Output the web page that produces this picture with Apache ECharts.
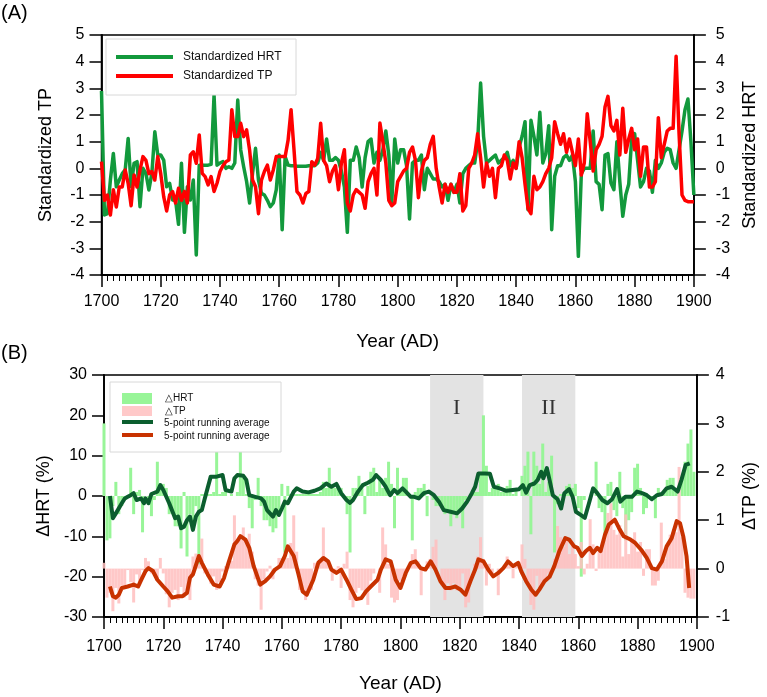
<!DOCTYPE html>
<html><head><meta charset="utf-8">
<script src="https://cdn.jsdelivr.net/npm/echarts@6/dist/echarts.min.js"></script>
<style>html,body{margin:0;padding:0;background:#fff}#c{width:767px;height:697px}</style>
</head><body><div id="c"></div><script>
const startYear = 1700;
const xTicks = [1700, 1720, 1740, 1760, 1780, 1800, 1820, 1840, 1860, 1880, 1900];

// Panel A: standardized series, one value per year 1700-1900
const stdHRT = [
2.9,-1.75,-1.7,-0.44,0.56,-0.69,-0.44,-0.2,-0.06,1.12,
-0.69,0.19,0.25,-1.44,0.0,-0.19,-0.81,-0.19,1.37,0.5,
0.5,0.31,-0.69,-0.56,-1.19,-1.2,-2.1,0.19,-2.4,-0.69,
-1.19,-0.44,-3.25,0.12,0.12,0.12,0.12,0.15,2.75,0.12,
0.2,0.25,0.0,0.06,0.0,0.2,2.56,0.69,0.06,-0.5,
-1.3,-0.19,0.75,-0.44,-0.94,-1.0,-1.2,-1.44,-1.3,-0.81,
0.5,-2.3,0.44,0.12,0.1,0.1,0.08,0.08,0.08,0.08,
0.1,0.1,0.1,0.2,0.6,0.3,1.1,0.3,0.3,0.4,
0.3,-0.1,-0.7,-2.4,0.3,0.3,0.8,0.4,-0.7,0.4,
1.0,1.1,0.2,0.6,0.3,0.7,1.4,0.5,-1.3,1.1,
0.2,0.7,0.7,0.1,-1.9,0.2,0.3,0.3,0.5,-0.8,
0.0,-0.2,-0.4,-0.4,-0.5,-0.7,-0.6,-1.2,-0.6,-0.9,
-0.6,-1.3,-0.2,0.0,0.1,0.2,0.2,1.0,3.2,1.2,
0.2,0.3,0.4,0.5,0.2,0.3,0.4,0.6,0.1,0.3,
0.0,0.8,1.2,1.75,-1.55,1.8,1.2,0.5,2.1,0.2,
0.55,1.6,-2.3,-0.3,0.1,0.1,0.4,0.5,0.3,0.5,
-0.5,-3.3,-0.2,0.0,0.0,0.0,1.4,-0.5,-0.6,-1.55,
0.5,0.55,-0.55,-0.8,1.0,-0.5,-1.8,-1.0,-0.6,1.1,
1.3,0.3,-0.7,-0.5,0.0,-0.1,-0.9,0.3,0.0,0.2,
0.6,0.75,0.7,0.2,0.0,0.7,1.4,2.2,2.6,1.0,
-1.0
];
const stdTP = [
0.25,-1.2,-1.0,-1.75,-0.8,-1.45,-0.7,-0.7,-0.06,-0.56,
-1.4,-0.25,-0.7,-0.06,0.44,0.3,-0.2,-0.12,-0.44,0.44,
-0.2,-1.06,-1.6,-1.0,-0.87,-1.3,-0.75,-1.2,-0.87,-1.3,
0.5,0.62,0.19,1.25,-0.19,-0.31,-0.62,-0.31,-0.87,-0.56,
-0.12,0.1,0.25,0.31,2.2,1.19,1.19,1.69,1.19,1.44,
0.69,-0.44,-0.69,-1.7,-0.44,-0.12,0.12,-0.44,-0.06,0.44,
0.44,0.44,0.44,1.06,2.2,0.69,-0.87,-1.0,-1.3,-0.94,
-0.87,0.25,0.12,0.37,1.69,0.3,0.1,-0.5,-0.1,0.1,
-0.8,0.2,0.7,-1.3,-1.6,-1.0,-0.8,-0.9,-1.0,-1.5,
-0.5,-0.2,0.0,-1.0,1.7,1.0,0.2,-1.2,-1.4,-1.3,
-0.5,-0.3,-0.1,0.0,0.6,0.8,0.3,-1.1,-0.1,0.3,
0.4,0.9,1.2,0.0,-0.7,-1.3,-0.6,-0.9,-0.6,-0.9,
-0.9,-0.2,-1.6,-1.4,0.0,0.2,0.5,1.3,0.4,-0.7,
0.2,-0.3,0.0,-1.1,0.0,0.1,0.5,0.3,-0.4,0.2,
0.0,1.0,0.4,-0.6,-1.5,-1.7,-0.3,-0.8,-0.7,-0.5,
-0.2,0.0,0.4,1.75,1.3,0.9,1.3,0.6,1.1,0.6,
0.1,1.1,-0.25,0.2,2.05,1.0,-0.1,0.7,0.9,1.2,
2.3,2.7,1.6,1.4,1.8,0.5,2.25,0.6,1.1,1.5,
0.7,1.1,-0.3,0.8,0.8,-0.7,-0.7,-0.5,1.9,0.4,
0.9,1.4,1.5,1.5,4.2,1.3,-1.0,-1.2,-1.25,-1.25,
-1.25
];

// Panel B: annual changes (bars), one value per year 1700-1899
const dHRT = [
18,-11,-10.5,-2.5,3.5,-4.5,-2.5,-1,-0.5,7,
-4.5,1,1.5,-9,0,-1,-5,-1,8.5,3,
3,2,-4.5,-3.5,-7.5,-7.5,-13,1,-15,-4.5,
-7.5,-2.5,-17,0.5,0.5,0.5,0.5,1,17.5,0.5,
1,1.5,0,0.5,0,1,16,4.5,0.5,-3,
-8,-1,4.5,-2.5,-6,-6,-7.5,-9,-8,-5,
3,-14,2.5,0.5,0.5,0.5,0.5,0.5,0.5,0.5,
0.5,0.5,0.5,1,3.5,2,7,2,2,2.5,
2,-0.5,-4.5,-14,2,2,5,2.5,-4.5,2.5,
6,7,1,4,2,4.5,8.5,3,-8,7,
1,4.5,4.5,0.5,-11,1,2,2,3,-5,
0,-1,-2.5,-2.5,-3,-4.5,-4,-7.5,-4,-5.5,
-4,-8,-1,0,0.5,1,1,6,20,7.5,
1,2,2.5,3,1,2,2.5,4,0.5,2,
0,5,7.5,11,-9.5,11,7.5,3,13,1,
3.5,10,-14,-2,0.5,0.5,2.5,3,2,3,
-3,-20,-1,0,0,0,8.5,-3,-4,-9.5,
3,3.5,-3.5,-5,6,-3,-11,-6,-4,7,
8,2,-4.5,-3,0,-0.5,-5.5,2,0,1,
4,4.5,4.5,1,0,4.5,8.5,13,16.5,6
];
const dTP = [
0.12,-0.6,-0.5,-0.88,-0.4,-0.72,-0.35,-0.35,-0.03,-0.28,
-0.7,-0.12,-0.35,-0.03,0.22,0.15,-0.1,-0.06,-0.22,0.22,
-0.1,-0.53,-0.8,-0.5,-0.44,-0.65,-0.38,-0.6,-0.44,-0.65,
0.25,0.31,0.1,0.62,-0.1,-0.16,-0.31,-0.16,-0.44,-0.28,
-0.06,0.05,0.12,0.16,1.1,0.6,0.6,0.85,0.6,0.72,
0.35,-0.22,-0.35,-0.85,-0.22,-0.06,0.06,-0.22,-0.03,0.22,
0.22,0.22,0.22,0.53,1.1,0.35,-0.44,-0.5,-0.65,-0.47,
-0.44,0.12,0.06,0.18,0.85,0.15,0.05,-0.25,-0.05,0.05,
-0.4,0.1,0.35,-0.65,-0.8,-0.5,-0.4,-0.45,-0.5,-0.75,
-0.25,-0.1,0,-0.5,0.85,0.5,0.1,-0.6,-0.7,-0.65,
-0.25,-0.15,-0.05,0,0.3,0.4,0.15,-0.55,-0.05,0.15,
0.2,0.45,0.6,0,-0.35,-0.65,-0.3,-0.45,-0.3,-0.45,
-0.45,-0.1,-0.8,-0.7,0,0.1,0.25,0.65,0.2,-0.35,
0.1,-0.15,0,-0.55,0,0.05,0.25,0.15,-0.2,0.1,
0,0.5,0.2,-0.3,-0.75,-0.85,-0.15,-0.4,-0.35,-0.25,
-0.1,0,0.2,0.88,0.65,0.45,0.65,0.3,0.55,0.3,
0.05,0.55,-0.12,0.1,1.02,0.5,-0.05,0.35,0.45,0.6,
1.15,1.35,0.8,0.7,0.9,0.25,1.12,0.3,0.55,0.75,
0.35,0.55,-0.15,0.4,0.4,-0.35,-0.35,-0.25,0.95,0.2,
0.45,0.7,0.75,0.75,2.1,0.65,-0.5,-0.6,-0.62,-0.62
];

// 5-point running averages: [year, value]
const avgHRT = [[1702,0],[1703,-5.5],[1704,-4.3],[1706,-1.8],[1707,-0.6],[1708,-0.2],[1709,0.2],[1710,0.7],[1711,-1],[1712.5,-0.6],[1713.5,-1.8],[1714,-0.6],[1715,-1.8],[1716,0.5],[1718,1.1],[1719,2.7],[1720,1.5],[1722,-1.8],[1724,-5.5],[1725,-5.1],[1726,-8],[1727,-7.6],[1728,-6],[1729,-5.1],[1730,-8.4],[1731,-5.1],[1732,-3.9],[1733,-3.5],[1734,-0.6],[1736,4.8],[1738,4.8],[1740,5.2],[1741,1.5],[1743,1.1],[1744,4.4],[1745,5.2],[1747,5],[1748,4],[1749,0.2],[1751,-0.2],[1753,-0.6],[1754,-1.4],[1755,-3.5],[1757,-5.1],[1758,-3.5],[1759,-4.7],[1760,-3.1],[1761,-1.4],[1762,-1.8],[1764,1.1],[1765,1.9],[1767,1.1],[1769,0.9],[1771,1.3],[1773,1.9],[1775,3.1],[1776.7,2.3],[1778.4,3],[1780,0.7],[1781.8,-1],[1783,-1.7],[1784,-1],[1785.7,1.1],[1787.3,2.7],[1789,3.3],[1790.7,4],[1791.8,5.2],[1793.4,4],[1795,2.3],[1796.5,0.2],[1797.9,1.5],[1799,0.7],[1800.7,1.9],[1801.8,1.1],[1803.5,-0.2],[1804.6,-0.2],[1806.2,-0.6],[1807.9,0.7],[1809.6,1.1],[1811.3,0.2],[1813,-1.4],[1814.6,-3.5],[1816.9,-3.9],[1819.1,-4.3],[1820.8,-3.1],[1822.5,-1.4],[1824.1,0.7],[1825.2,2.3],[1826.3,5.6],[1828.5,5.6],[1830.2,5.5],[1831.5,2.3],[1833.5,1.9],[1835.7,1.3],[1837.9,1.5],[1840,1.7],[1841.3,2.7],[1842.4,0.8],[1843.6,2.7],[1845.2,3.1],[1846.3,4],[1847.5,6],[1848.2,4.4],[1849.4,6.9],[1850.3,4],[1851.4,0.2],[1853,-0.8],[1854.2,-3.1],[1855.3,0.7],[1856.9,1.7],[1858.1,-0.2],[1859.2,-3.9],[1860.8,-4.7],[1862.2,-5.4],[1863.6,-1.8],[1865,1.9],[1866.4,0.7],[1868.1,-1],[1869.8,-1.8],[1871.4,-0.8],[1873.1,1.7],[1874.2,-1.4],[1875.9,-0.2],[1878.1,-0.2],[1879.8,1.1],[1881.5,0.7],[1883.1,0.2],[1884.8,-0.8],[1886.5,0.2],[1888.2,0.5],[1889.8,1.9],[1891.5,2.3],[1893.5,1.1],[1894.8,4],[1896.2,7.7],[1897.6,8.1]];
const avgTP = [[1702,-0.37],[1703,-0.57],[1704,-0.6],[1705,-0.54],[1706,-0.4],[1708,-0.37],[1710,-0.33],[1711.5,-0.37],[1712.6,-0.23],[1714,-0.05],[1715,0.01],[1716.5,-0.05],[1718,-0.23],[1720,-0.37],[1721.5,-0.47],[1723,-0.6],[1725,-0.57],[1726.5,-0.57],[1728,-0.5],[1729,-0.19],[1730,-0.12],[1732,0.26],[1733,0.12],[1735,-0.12],[1737,-0.33],[1739,-0.37],[1740.5,-0.19],[1742,0.12],[1744,0.5],[1745,0.57],[1746,0.67],[1747.7,0.6],[1749,0.43],[1750.5,0.05],[1752.7,-0.33],[1754.4,-0.26],[1756,-0.16],[1757.7,-0.02],[1759.4,0.05],[1761,0.26],[1762,0.46],[1764,0.26],[1765.5,-0.09],[1767,-0.47],[1768.4,-0.54],[1770.6,-0.23],[1772.3,0.12],[1774,0.22],[1775.6,0.15],[1776.7,-0.02],[1778.4,-0.09],[1780,-0.02],[1781.8,-0.23],[1783.4,-0.43],[1785.1,-0.63],[1786.8,-0.61],[1788.4,-0.47],[1790,-0.37],[1792.3,-0.23],[1793.4,-0.02],[1795,0.19],[1796.7,0.15],[1798.4,-0.23],[1800,-0.4],[1801.8,-0.09],[1803.5,0.12],[1805.1,0.15],[1806.8,0.01],[1808.4,-0.02],[1810.2,0.15],[1811.8,-0.02],[1813.5,-0.26],[1815.2,-0.4],[1816.9,-0.4],[1818.5,-0.37],[1820.2,-0.43],[1821.9,-0.54],[1823.6,-0.26],[1825.2,-0.02],[1826.3,0.19],[1828,0.15],[1829.6,-0.02],[1831.3,-0.16],[1833,-0.09],[1834.7,0.01],[1836.3,0.15],[1838,0.05],[1839.7,0.12],[1840.8,-0.06],[1842.4,-0.26],[1844.1,-0.43],[1845.6,-0.54],[1846.9,-0.43],[1848.6,-0.26],[1850.3,-0.17],[1851.9,0.05],[1853.6,0.36],[1855.6,0.63],[1856.9,0.6],[1858.6,0.46],[1859.7,0.43],[1861.2,0.26],[1862.5,0.36],[1863.9,0.43],[1865,0.32],[1866.4,0.43],[1867.5,0.36],[1869,0.7],[1870.3,0.91],[1872.3,1.01],[1873.7,0.84],[1875.3,0.67],[1877.6,0.6],[1879.2,0.53],[1881.2,0.39],[1883.1,0.22],[1884.8,0.01],[1886.5,-0.02],[1888.2,0.15],[1889.8,0.46],[1891.5,0.63],[1893.2,0.98],[1894.3,0.94],[1895.4,0.67],[1896.5,0.26],[1897.4,-0.4]];

// Shaded periods
const periods = [{name: 'I', from: 1810, to: 1828}, {name: 'II', from: 1841, to: 1859}];

const withYears = arr => arr.map((v, i) => [startYear + i, v]);
const FONT = "'Liberation Sans', Arial, sans-serif";

const chart = echarts.init(document.getElementById('c'), null, {renderer: 'canvas'});

function xAxisFor(gridIndex, labelMargin) {
  return {
    type: 'value', gridIndex: gridIndex,
    min: xTicks[0], max: xTicks[xTicks.length - 1], interval: xTicks[1] - xTicks[0],
    name: 'Year (AD)', nameLocation: 'middle', nameGap: 57,
    nameTextStyle: {color: '#000', fontSize: 19, fontFamily: FONT},
    axisLine: {show: true, onZero: false, lineStyle: {color: '#000', width: 1.8}},
    axisTick: {show: true, inside: false, length: 12, lineStyle: {color: '#000', width: 1.5}},
    minorTick: {show: true, splitNumber: 10, length: 6, lineStyle: {color: '#000', width: 1}},
    splitLine: {show: false}, minorSplitLine: {show: false},
    axisLabel: {color: '#000', fontSize: 16, fontFamily: FONT, margin: labelMargin, formatter: v => String(v)}
  };
}
function yAxisFor(gridIndex, pos, min, max, interval, name, nameGap, labelMargin) {
  return {
    type: 'value', gridIndex: gridIndex, position: pos,
    min: min, max: max, interval: interval,
    name: name, nameLocation: 'middle', nameGap: nameGap,
    nameTextStyle: {color: '#000', fontSize: 18, fontFamily: FONT},
    axisLine: {show: true, onZero: false, lineStyle: {color: '#000', width: 1.8}},
    axisTick: {show: true, inside: false, length: 12, lineStyle: {color: '#000', width: 1.5}},
    splitLine: {show: false},
    axisLabel: {color: '#000', fontSize: 16, fontFamily: FONT, margin: labelMargin, formatter: v => String(v)}
  };
}

const legendA = [
  {type: 'rect', shape: {x: 106, y: 39, width: 190, height: 56}, style: {fill: '#fff', stroke: '#d8d8d8', lineWidth: 1}, z: 100},
  {type: 'line', shape: {x1: 116, y1: 57, x2: 173, y2: 57}, style: {stroke: '#12993c', lineWidth: 4}, z: 101},
  {type: 'line', shape: {x1: 116, y1: 76, x2: 173, y2: 76}, style: {stroke: '#ff0000', lineWidth: 4}, z: 101},
  {type: 'text', x: 183, y: 57, style: {text: 'Standardized HRT', fill: '#111', font: '12px ' + FONT, textVerticalAlign: 'middle'}, z: 101},
  {type: 'text', x: 183, y: 76, style: {text: 'Standardized TP', fill: '#111', font: '12px ' + FONT, textVerticalAlign: 'middle'}, z: 101}
];
const legendB = [
  {type: 'rect', shape: {x: 110, y: 382, width: 171, height: 70}, style: {fill: '#fff', stroke: '#d8d8d8', lineWidth: 1}, z: 100},
  {type: 'rect', shape: {x: 122, y: 393, width: 30, height: 11}, style: {fill: '#98f598'}, z: 101},
  {type: 'rect', shape: {x: 122, y: 406, width: 30, height: 10}, style: {fill: '#ffc9c9'}, z: 101},
  {type: 'line', shape: {x1: 122, y1: 422, x2: 153, y2: 422}, style: {stroke: '#0b5e2e', lineWidth: 4}, z: 101},
  {type: 'line', shape: {x1: 122, y1: 435, x2: 153, y2: 435}, style: {stroke: '#c83200', lineWidth: 4}, z: 101},
  {type: 'text', x: 165, y: 398, style: {text: '△HRT', fill: '#111', font: '10px ' + FONT, textVerticalAlign: 'middle'}, z: 101},
  {type: 'text', x: 165, y: 411, style: {text: '△TP', fill: '#111', font: '10px ' + FONT, textVerticalAlign: 'middle'}, z: 101},
  {type: 'text', x: 164, y: 423, style: {text: '5-point running average', fill: '#111', font: '10px ' + FONT, textVerticalAlign: 'middle'}, z: 101},
  {type: 'text', x: 164, y: 436, style: {text: '5-point running average', fill: '#111', font: '10px ' + FONT, textVerticalAlign: 'middle'}, z: 101}
];

const option = {
  animation: false,
  backgroundColor: '#fff',
  grid: [
    {left: 101.5, top: 35, width: 600, height: 240, show: true, borderColor: '#000', borderWidth: 1.5, backgroundColor: 'transparent'},
    {left: 104, top: 375, width: 599, height: 242, show: true, borderColor: '#000', borderWidth: 1.5, backgroundColor: 'transparent'}
  ],
  xAxis: [xAxisFor(0, 19), xAxisFor(1, 22)],
  yAxis: [
    yAxisFor(0, 'left', -4, 5, 1, 'Standardized TP', 46, 17),
    yAxisFor(0, 'right', -4, 5, 1, 'Standardized HRT', 43, 22),
    yAxisFor(1, 'left', -30, 30, 10, 'ΔHRT (%)', 47, 17),
    yAxisFor(1, 'right', -1, 4, 1, 'ΔTP (%)', 41, 19)
  ],
  graphic: [
    {type: 'text', x: 1, y: 13, style: {text: '(A)', fill: '#000', font: '20px ' + FONT, textVerticalAlign: 'middle'}},
    {type: 'text', x: 1, y: 353, style: {text: '(B)', fill: '#000', font: '20px ' + FONT, textVerticalAlign: 'middle'}}
  ].concat(legendA, legendB),
  series: [
    {type: 'line', name: 'Standardized HRT', xAxisIndex: 0, yAxisIndex: 1, data: withYears(stdHRT),
     showSymbol: false, lineStyle: {color: '#12993c', width: 3.5, join: 'round'}, z: 2},
    {type: 'line', name: 'Standardized TP', xAxisIndex: 0, yAxisIndex: 0, data: withYears(stdTP),
     showSymbol: false, lineStyle: {color: '#ff0000', width: 3.5, join: 'round'}, z: 3},
    {type: 'line', name: 'periods', xAxisIndex: 1, yAxisIndex: 2, data: [], z: 1,
     markArea: {silent: true, itemStyle: {color: '#e3e3e3'},
       label: {show: true, position: 'insideTop', distance: 22, color: '#333', fontSize: 22, fontFamily: "'Liberation Serif', 'Times New Roman', serif"},
       data: periods.map(p => [{xAxis: p.from, name: p.name}, {xAxis: p.to}])}},
    {type: 'bar', name: '△HRT', xAxisIndex: 1, yAxisIndex: 2, data: withYears(dHRT),
     barWidth: 3, barGap: '-100%', itemStyle: {color: '#98f598'}, z: 2},
    {type: 'bar', name: '△TP', xAxisIndex: 1, yAxisIndex: 3, data: withYears(dTP),
     barWidth: 3, barGap: '-100%', itemStyle: {color: 'rgba(255,190,190,0.85)'}, z: 2},
    {type: 'line', name: '5-point running average HRT', xAxisIndex: 1, yAxisIndex: 2, data: avgHRT,
     showSymbol: false, lineStyle: {color: '#0b5e2e', width: 4, join: 'round'}, z: 4},
    {type: 'line', name: '5-point running average TP', xAxisIndex: 1, yAxisIndex: 3, data: avgTP,
     showSymbol: false, lineStyle: {color: '#c83200', width: 4, join: 'round'}, z: 4}
  ]
};
chart.setOption(option);
</script></body></html>
